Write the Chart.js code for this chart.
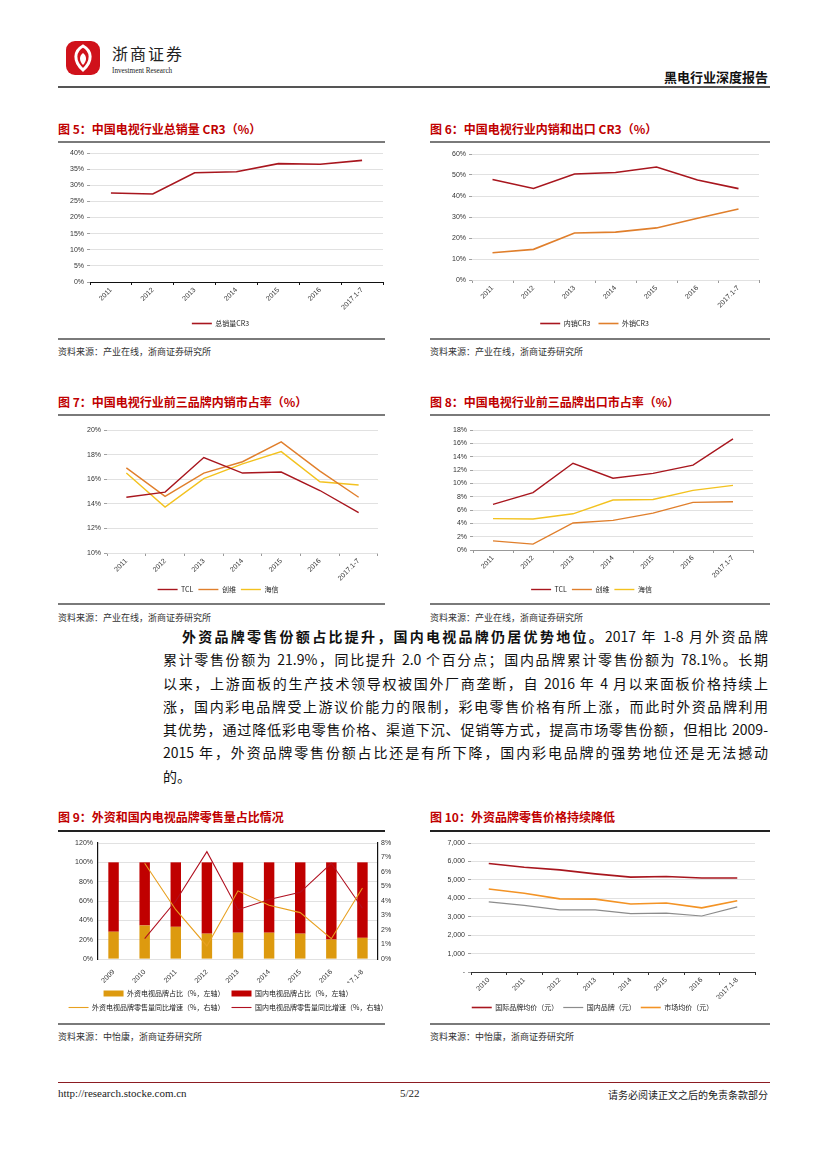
<!DOCTYPE html>
<html>
<head>
<meta charset="utf-8">
<script src="https://cdn.jsdelivr.net/npm/chart.js@4.4.1/dist/chart.umd.min.js"></script>
<style>
  body { margin: 0; background: #fff; width: 827px; height: 1169px; position: relative; overflow: hidden;
         font-family: "Noto Sans CJK SC", sans-serif; }
  .title { position: absolute; color: #C00000; font-weight: bold; font-size: 12px; line-height: 14px; white-space: nowrap; }
  .rule  { position: absolute; height: 2px; background: #7a7a7a; }
  .src   { position: absolute; font-size: 9px; color: #333; line-height: 11px; white-space: nowrap; }
  .para  { position: absolute; left: 163px; width: 605px; font-size: 14px; line-height: 16px; color: #111;
           text-align: justify; text-align-last: justify; white-space: nowrap; }
  canvas { position: absolute; }
</style>
</head>
<body>

<!-- header -->
<svg style="position:absolute;left:64px;top:39px" width="38" height="38" viewBox="0 0 38 38">
  <rect x="2" y="2" width="34" height="34" rx="9" fill="#d0121b"/>
  <path d="M19 7 C10 12 9 22 19 31 C29 22 28 12 19 7 Z" fill="none" stroke="#fff" stroke-width="3"/>
  <path d="M19 14 C15 17 15 22 19 26 C23 22 23 17 19 14 Z" fill="#fff"/>
</svg>
<div style="position:absolute;left:112px;top:44px;font-size:16px;line-height:18px;letter-spacing:2px;color:#222;">浙商证券</div>
<div style="position:absolute;left:112px;top:65px;font-size:9px;line-height:10px;color:#222;font-family:'Liberation Serif';transform:scaleX(0.8);transform-origin:left;">Investment Research</div>
<div style="position:absolute;right:59px;top:69px;font-size:13px;font-weight:bold;line-height:15px;color:#111;">黑电行业深度报告</div>
<div class="rule" style="left:58px;top:86px;width:712px;background:#555;"></div>

<!-- row 1 -->
<div class="title" style="left:58px;top:122px;">图 5：中国电视行业总销量 CR3（%）</div>
<div class="title" style="left:430px;top:122px;">图 6：中国电视行业内销和出口 CR3（%）</div>
<div class="rule" style="left:58px;top:141px;width:327px;"></div>
<div class="rule" style="left:430px;top:141px;width:340px;"></div>
<canvas id="c5" width="327" height="193" style="left:58px;top:144px"></canvas>
<canvas id="c6" width="340" height="193" style="left:430px;top:144px"></canvas>
<div class="rule" style="left:58px;top:338px;width:327px;"></div>
<div class="rule" style="left:430px;top:338px;width:340px;"></div>
<div class="src" style="left:58px;top:346px;">资料来源：产业在线，浙商证券研究所</div>
<div class="src" style="left:430px;top:346px;">资料来源：产业在线，浙商证券研究所</div>

<!-- row 2 -->
<div class="title" style="left:58px;top:395px;">图 7：中国电视行业前三品牌内销市占率（%）</div>
<div class="title" style="left:430px;top:395px;">图 8：中国电视行业前三品牌出口市占率（%）</div>
<div class="rule" style="left:58px;top:414px;width:327px;"></div>
<div class="rule" style="left:430px;top:414px;width:340px;"></div>
<canvas id="c7" width="327" height="186" style="left:58px;top:417px"></canvas>
<canvas id="c8" width="340" height="186" style="left:430px;top:417px"></canvas>
<div class="rule" style="left:58px;top:603px;width:327px;"></div>
<div class="rule" style="left:430px;top:603px;width:340px;"></div>
<div class="src" style="left:58px;top:612px;">资料来源：产业在线，浙商证券研究所</div>
<div class="src" style="left:430px;top:612px;">资料来源：产业在线，浙商证券研究所</div>

<!-- paragraph -->
<div class="para" style="top:628px;left:182px;width:586px;"><b>外资品牌零售份额占比提升，国内电视品牌仍居优势地位。</b>2017 年 1-8 月外资品牌</div>
<div class="para" style="top:651px;">累计零售份额为 21.9%，同比提升 2.0 个百分点；国内品牌累计零售份额为 78.1%。长期</div>
<div class="para" style="top:675px;">以来，上游面板的生产技术领导权被国外厂商垄断，自 2016 年 4 月以来面板价格持续上</div>
<div class="para" style="top:698px;">涨，国内彩电品牌受上游议价能力的限制，彩电零售价格有所上涨，而此时外资品牌利用</div>
<div class="para" style="top:721px;">其优势，通过降低彩电零售价格、渠道下沉、促销等方式，提高市场零售份额，但相比 2009-</div>
<div class="para" style="top:744px;">2015 年，外资品牌零售份额占比还是有所下降，国内彩电品牌的强势地位还是无法撼动</div>
<div class="para" style="top:768px;text-align-last:left;">的。</div>

<!-- row 3 -->
<div class="title" style="left:58px;top:810px;">图 9：外资和国内电视品牌零售量占比情况</div>
<div class="title" style="left:430px;top:810px;">图 10：外资品牌零售价格持续降低</div>
<div class="rule" style="left:58px;top:830px;width:327px;background:#222;"></div>
<div class="rule" style="left:430px;top:830px;width:340px;background:#222;"></div>
<canvas id="c9" width="340" height="188" style="left:58px;top:833px"></canvas>
<canvas id="c10" width="340" height="188" style="left:430px;top:833px"></canvas>
<div class="rule" style="left:58px;top:1023px;width:327px;"></div>
<div class="rule" style="left:430px;top:1023px;width:340px;"></div>
<div class="src" style="left:58px;top:1031px;">资料来源：中怡康，浙商证券研究所</div>
<div class="src" style="left:430px;top:1031px;">资料来源：中怡康，浙商证券研究所</div>

<!-- footer -->
<div class="rule" style="left:58px;top:1082px;width:712px;height:1px;background:#8c1c22;"></div>
<div style="position:absolute;left:58px;top:1087px;font-size:11px;font-family:'Liberation Serif';color:#222;">http://research.stocke.com.cn</div>
<div style="position:absolute;left:400px;top:1087px;font-size:11px;font-family:'Liberation Serif';color:#222;">5/22</div>
<div style="position:absolute;right:59px;top:1087px;font-size:10px;color:#222;">请务必阅读正文之后的免责条款部分</div>

<script>
// ── data ─────────────────────────────────────
const years7  = ['2011', '2012', '2013', '2014', '2015', '2016', '2017.1-7'];
const cr3Total  = [27.6, 27.3, 33.9, 34.2, 36.7, 36.5, 37.7];
const cr3Domestic = [47.9, 43.6, 50.5, 51.2, 53.8, 47.6, 43.5];
const cr3Export   = [13.0, 14.6, 22.4, 22.8, 24.8, 29.4, 33.8];

const domTCL     = [14.53, 14.95, 17.76, 16.50, 16.58, 15.08, 13.29];
const domSkyworth = [16.92, 14.60, 16.50, 17.42, 19.03, 16.66, 14.53];
const domHisense = [16.50, 13.74, 16.05, 17.24, 18.24, 15.79, 15.53];

const expTCL      = [6.85, 8.61, 13.01, 10.76, 11.50, 12.72, 16.68];
const expSkyworth = [1.37, 0.88, 4.06, 4.45, 5.53, 7.14, 7.24];
const expHisense  = [4.70, 4.65, 5.43, 7.49, 7.58, 8.95, 9.69];

const years9 = ['2009', '2010', '2011', '2012', '2013', '2014', '2015', '2016', '2017.1-8'];
const shareForeign  = [28.2, 34.7, 33.3, 26.2, 27.2, 27.2, 26.2, 20.1, 21.9];
const shareDomestic = shareForeign.map(v => +(100 - v).toFixed(1));
const growthForeign  = [null, 6.6, 3.4, 0.9, 4.7, 3.7, 3.2, 1.4, 4.9];
const growthDomestic = [null, 1.4, 4.0, 7.4, 3.4, 4.1, 4.6, 6.6, 3.5];

const years10 = ['2010', '2011', '2012', '2013', '2014', '2015', '2016', '2017.1-8'];
const priceIntl   = [5890, 5680, 5540, 5325, 5150, 5185, 5100, 5100];
const priceDom    = [3800, 3620, 3375, 3375, 3165, 3200, 3040, 3530];
const priceMarket = [4500, 4270, 3970, 3955, 3690, 3745, 3480, 3865];

// ── colours ─────────────────────────────────
const DARK_RED = '#a8161e';
const ORANGE   = '#e07f2c';
const YELLOW   = '#f3c21f';
const GRID     = { color: '#d9d9d9', lineWidth: 0.8, tickLength: 3, tickColor: '#888' };
const TICK_FONT = { family: 'Liberation Sans', size: 7 };

Chart.defaults.font.family = 'Liberation Sans';
Chart.defaults.color = '#333';
Chart.defaults.animation = false;

function ds(label, data, color, width = 1.4) {
  return { label, data, borderColor: color, backgroundColor: color, borderWidth: width,
           pointRadius: 0, pointStyle: 'line', tension: 0, fill: false };
}

function lineChart(id, labels, datasets, c) {
  return new Chart(document.getElementById(id), {
    type: 'line',
    data: { labels, datasets },
    options: {
      responsive: false,
      layout: { padding: { top: c.padT, right: c.padR, left: 0, bottom: 0 } },
      plugins: {
        legend: {
          position: 'bottom',
          labels: { usePointStyle: true, pointStyleWidth: 20, boxHeight: 6,
                    font: { family: 'Noto Sans CJK SC', size: 7 }, padding: c.legPad || 5, color: '#222' },
        },
        tooltip: { enabled: false },
      },
      scales: {
        x: {
          offset: true,
          grid: { display: true, drawOnChartArea: false, offset: true, tickLength: 3, tickColor: c.xBorder || '#999' },
          border: { display: !!c.xBorder, color: c.xBorder || '#999', width: 1 },
          ticks: { font: TICK_FONT, minRotation: 45, maxRotation: 45, padding: 1, color: '#333' },
          afterFit: s => { s.height = c.xH; },
        },
        y: {
          min: c.min, max: c.max,
          grid: GRID,
          border: { display: false },
          ticks: { stepSize: c.step, font: TICK_FONT, padding: 3, color: '#333', callback: c.fmt },
          afterFit: s => { s.width = c.yW; },
        },
      },
    },
  });
}

const pct = v => v + '%';

// 图5
lineChart('c5', years7, [ds('总销量CR3', cr3Total, DARK_RED, 1.6)],
  { min: 0, max: 40, step: 5, fmt: pct, yW: 32, padT: 9, padR: 2, xH: 30, legPad: 8, xBorder: '#111' });

// 图6
lineChart('c6', years7, [ds('内销CR3', cr3Domestic, DARK_RED, 1.6), ds('外销CR3', cr3Export, ORANGE, 1.6)],
  { min: 0, max: 60, step: 10, fmt: pct, yW: 42, padT: 10, padR: 11, xH: 32, legPad: 8 });

// 图7
lineChart('c7', years7, [ds('TCL', domTCL, DARK_RED), ds('创维', domSkyworth, ORANGE), ds('海信', domHisense, YELLOW)],
  { min: 10, max: 20, step: 2, fmt: pct, yW: 49, padT: 13, padR: 7, xH: 28, legPad: 5 });

// 图8
lineChart('c8', years7, [ds('TCL', expTCL, DARK_RED), ds('创维', expSkyworth, ORANGE), ds('海信', expHisense, YELLOW)],
  { min: 0, max: 18, step: 2, fmt: pct, yW: 43, padT: 13, padR: 17, xH: 31, legPad: 5, xBorder: '#999' });

// 图10
lineChart('c10', years10,
  [ds('国际品牌均价（元）', priceIntl, DARK_RED, 1.6), ds('国内品牌（元）', priceDom, '#8c8c8c', 1.2),
   ds('市场均价（元）', priceMarket, '#f39325', 1.6)],
  { min: 0, max: 7000, step: 1000, fmt: v => v === 0 ? '-' : v.toLocaleString('en-US'),
    yW: 41, padT: 10, padR: 15, xH: 27, legPad: 5, xBorder: '#333' });

// 图9  stacked share bars + growth lines on right axis
new Chart(document.getElementById('c9'), {
  type: 'bar',
  data: {
    labels: years9,
    datasets: [
      { label: '外资电视品牌占比（%，左轴）', data: shareForeign, backgroundColor: '#dd9a0f',
        stack: 's', barPercentage: 0.42, order: 1, pointStyle: 'rect' },
      { label: '国内电视品牌占比（%，左轴）', data: shareDomestic, backgroundColor: '#c00000',
        stack: 's', barPercentage: 0.42, order: 1, pointStyle: 'rect' },
      { type: 'line', label: '外资电视品牌零售量同比增速（%，右轴）', data: growthForeign, yAxisID: 'y1',
        borderColor: '#e8a020', backgroundColor: '#e8a020', borderWidth: 1.1, pointRadius: 0,
        pointStyle: 'line', order: 0 },
      { type: 'line', label: '国内电视品牌零售量同比增速（%，右轴）', data: growthDomestic, yAxisID: 'y1',
        borderColor: '#b01020', backgroundColor: '#b01020', borderWidth: 1.1, pointRadius: 0,
        pointStyle: 'line', order: 0 },
    ],
  },
  options: {
    responsive: false,
    layout: { padding: { top: 10, right: 0, left: 0, bottom: 0 } },
    plugins: {
      legend: {
        position: 'bottom',
        labels: { usePointStyle: true, pointStyleWidth: 20, boxHeight: 6,
                  font: { family: 'Noto Sans CJK SC', size: 7 }, padding: 7, color: '#222',
                  sort: (a, b) => a.datasetIndex - b.datasetIndex },
      },
      tooltip: { enabled: false },
    },
    scales: {
      x: {
        stacked: true,
        grid: { display: false },
        border: { display: false },
        ticks: { font: TICK_FONT, minRotation: 45, maxRotation: 45, padding: 1, color: '#333' },
        afterFit: s => { s.height = 24; },
      },
      y: {
        stacked: true, min: 0, max: 120,
        grid: { color: '#d9d9d9', lineWidth: 0.8, drawTicks: false },
        border: { display: true, color: '#111', width: 1.2 },
        ticks: { stepSize: 20, font: TICK_FONT, padding: 5, color: '#333', callback: pct },
        afterFit: s => { s.width = 40; },
      },
      y1: {
        position: 'right', min: 0, max: 8,
        grid: { display: false, drawTicks: false },
        border: { display: true, color: '#111', width: 1.2 },
        ticks: { stepSize: 1, font: TICK_FONT, padding: 3, color: '#333', callback: pct },
        afterFit: s => { s.width = 20; },
      },
    },
  },
});
</script>
</body>
</html>
